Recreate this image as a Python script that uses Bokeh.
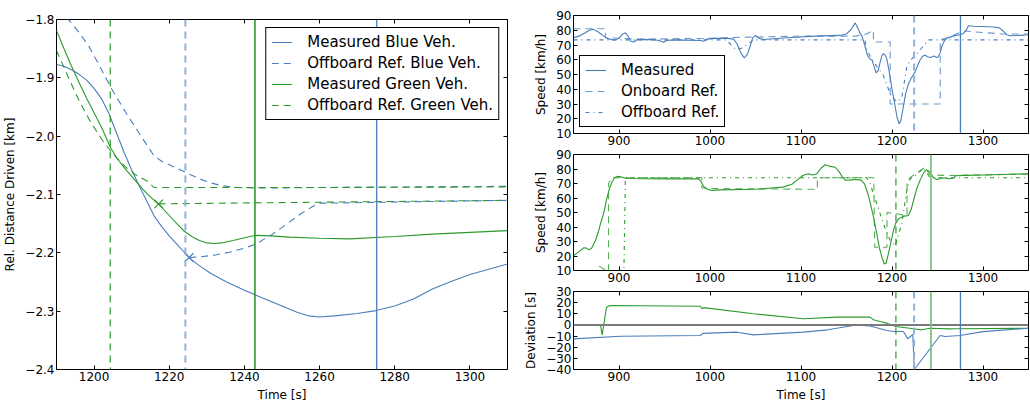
from bokeh.plotting import figure
from bokeh.layouts import row, column
from bokeh.models import Range1d, FixedTicker, LinearAxis, Span, CustomJSTickFormatter
from bokeh.embed import file_html
from bokeh.resources import INLINE

FONT = "DejaVu Sans"
BLUE = "#4a7ebb"
GREEN = "#2b9a2b"
LBLUE = "#8db0dc"
LGREEN = "#7fc47f"

# ---------------- Left panel: relative distance driven ----------------
left_t_blue_meas = [1190, 1192, 1194, 1196, 1198, 1200, 1202, 1204, 1206, 1208, 1210, 1212, 1214, 1216, 1218,
                    1220, 1222, 1224, 1226, 1228, 1231, 1235, 1240, 1245, 1250, 1254, 1257, 1260, 1264, 1270,
                    1275, 1280, 1285, 1290, 1295, 1300, 1305, 1310]
left_d_blue_meas = [-1.877, -1.880, -1.886, -1.894, -1.904, -1.918, -1.936, -1.962, -1.995, -2.028, -2.058,
                    -2.085, -2.111, -2.137, -2.155, -2.171, -2.185, -2.199, -2.212, -2.222, -2.235, -2.249,
                    -2.264, -2.278, -2.291, -2.302, -2.308, -2.310, -2.308, -2.304, -2.299, -2.291, -2.279,
                    -2.262, -2.249, -2.237, -2.228, -2.219]

left_t_blue_off = [1190, 1193.4, 1196, 1198.7, 1201, 1204.4, 1208, 1211, 1214, 1216, 1218, 1221, 1224.3, 1228,
                   1231, 1234, 1238, 1243, 1260, 1310]
left_d_blue_off = [-1.785, -1.802, -1.822, -1.847, -1.874, -1.916, -1.955, -1.985, -2.015, -2.034, -2.043,
                   -2.052, -2.062, -2.073, -2.080, -2.085, -2.088, -2.089, -2.088, -2.086]

left_t_green_meas = [1190, 1192, 1194, 1196, 1198, 1200, 1202, 1204.4, 1206, 1208, 1210, 1212, 1214, 1216, 1218,
                     1220, 1222, 1224, 1226, 1228, 1230, 1232, 1234, 1237, 1240, 1243, 1247, 1252, 1260, 1268,
                     1280, 1290, 1300, 1310]
left_d_green_meas = [-1.819, -1.850, -1.880, -1.908, -1.935, -1.960, -1.985, -2.020, -2.037, -2.054, -2.069,
                     -2.084, -2.098, -2.110, -2.122, -2.136, -2.150, -2.163, -2.172, -2.179, -2.183, -2.184,
                     -2.183, -2.179, -2.174, -2.170, -2.171, -2.173, -2.175, -2.176, -2.172, -2.168, -2.165,
                     -2.162]

left_t_green_off = [1190, 1193, 1196, 1199, 1202.2, 1205, 1208.4, 1211, 1214.6, 1215.9, 1260, 1310]
left_d_green_off = [-1.853, -1.897, -1.939, -1.975, -2.007, -2.030, -2.053, -2.066, -2.079, -2.088, -2.088, -2.087]

left_t_green_ref2 = [1217.2, 1310]
left_d_green_ref2 = [-2.116, -2.110]
left_t_blue_ref2 = [1225.3, 1228, 1232, 1236, 1240, 1243, 1247, 1251, 1255, 1259.6, 1310]
left_d_blue_ref2 = [-2.208, -2.207, -2.204, -2.199, -2.192, -2.185, -2.170, -2.152, -2.133, -2.115, -2.110]

marker_t = [1217.2, 1225.3]
marker_d = [-2.116, -2.208]
marker_colors = [GREEN, BLUE]

# event times (vertical lines)
t_green_dash = 1204.3
t_blue_dash = 1224.3
t_green_solid = 1242.8
t_blue_solid = 1275.2

left_xticks = [1200, 1220, 1240, 1260, 1280, 1300]
left_yticks = [-2.4, -2.3, -2.2, -2.1, -2.0, -1.9, -1.8]

# ---------------- Right panels ----------------
sp_t_blue_meas = [850, 856, 862, 868, 872, 877, 882, 887, 892, 896, 900, 904, 907, 910, 913, 916, 920, 925, 940,
                  946, 949, 952, 960, 990, 993, 997, 1005, 1020, 1026, 1030, 1034, 1037.7, 1041, 1044, 1047,
                  1050, 1054, 1059, 1085, 1121, 1143, 1150, 1155, 1159.6, 1162, 1165, 1167, 1170, 1173, 1176,
                  1178, 1180, 1182.6, 1185, 1187, 1189, 1190.6, 1192, 1194.3, 1196, 1198, 1200, 1203, 1205.5,
                  1207.8, 1209.5, 1211, 1213, 1215, 1218, 1221, 1225.4, 1228, 1231, 1234, 1236.4, 1239, 1242,
                  1246, 1249, 1251, 1253, 1255, 1258, 1262, 1268, 1274, 1278, 1281, 1284, 1290, 1300, 1312,
                  1318, 1322, 1326, 1330, 1340, 1350]
sp_v_blue_meas = [75, 76, 78, 80.2, 80.6, 79, 76.5, 74.5, 73.6, 73.5, 74.5, 77.5, 78.2, 76, 72.5, 72, 73.5, 73.8,
                  73.5, 72.6, 71.9, 73, 73.5, 73, 72.6, 74, 74.5, 74.5, 74, 70.5, 64.5, 61.3, 63.5, 69, 75,
                  76.4, 74.5, 73.7, 74.9, 76.2, 76.5, 77.5, 80.5, 85, 82, 78, 76, 70, 63, 60.3,
                  60, 56, 51, 53, 58.4, 63, 64.2, 63.5, 60.6, 55, 48, 40, 30, 21,
                  16.6, 18, 23, 30, 37, 43.5, 47.5, 51.6, 56, 60, 62.6, 63, 62, 61.5,
                  62.5, 61.5, 62, 65, 69.5, 73.3, 75, 76.2, 77, 77.6, 79.5, 83, 82.7, 82.5, 82.2,
                  81.6, 79.5, 77, 76.3, 76.5, 76.9]

sp_t_blue_on = [850, 885, 885, 920, 1000, 1020, 1100, 1160, 1172, 1179.6, 1179.6, 1198, 1198, 1253, 1253, 1265,
                1278, 1300, 1320, 1350]
sp_v_blue_on = [81, 81, 75, 74, 74.5, 75, 76, 76, 77.5, 80, 72, 72, 30, 30, 73.5, 76, 79.5, 78.5, 77.5, 77.5]

sp_t_blue_off = [850, 1018, 1028, 1036, 1048, 1170, 1172.5, 1179.8, 1190.6, 1198, 1205.3, 1210.8, 1216.3, 1219.9,
                 1227.2, 1240, 1350]
sp_v_blue_off = [73.5, 73.5, 67, 68, 73.5, 73.5, 66.3, 58.4, 49.3, 36.9, 31.2, 34.6, 55, 59.5, 64, 73.5, 73.5]

sp_t_green_meas = [850, 855, 861, 864, 867, 870, 874, 877, 880, 883, 886, 889, 892, 895, 898, 902, 908, 950, 987,
                   990, 993, 997, 1002, 1010, 1050, 1080, 1090, 1096, 1102, 1108, 1113, 1117, 1122, 1126.6, 1131,
                   1137.5, 1142, 1146, 1149, 1155, 1161, 1166, 1170, 1173, 1176, 1180, 1183.3, 1186, 1189,
                   1191.5, 1193.5, 1196, 1199, 1201.6, 1204, 1207, 1212, 1218, 1221, 1224, 1227, 1231, 1235,
                   1238.2, 1241.9, 1245, 1249, 1253, 1257, 1262, 1266, 1270, 1280, 1300, 1350]
sp_v_green_meas = [20.3, 22.5, 25.6, 25.5, 24.2, 25.5, 30.5, 36, 43, 49, 58, 65.5, 70.5, 74, 74.9, 74.6, 73.4,
                   73.2, 73.3, 71.5, 68, 66, 65.2, 65.6, 66, 67.5, 69.5, 72.5, 75.5, 76.7, 75.8, 76.5, 80.5,
                   82.9, 82, 81.2, 78, 74, 72.2, 72.5, 72.8, 72.3, 69.5, 64, 57, 46, 35.3, 26, 19,
                   14.5, 15, 21.5, 30, 37.6, 42.5, 45.6, 47.3, 47.9, 52, 59, 66, 72.5, 77.5,
                   79.6, 77.8, 74.5, 72.8, 73.3, 74, 73.3, 73.4, 75.3, 75.6, 75.9, 76.7]

sp_t_green_on = [878, 888.5, 888.5, 892, 991, 991, 1000, 1118, 1118, 1180, 1181, 1194.5, 1194.5, 1216.5, 1216.5,
                 1222, 1236, 1242, 1260, 1350]
sp_v_green_on = [13, 9, 70, 74, 74, 67, 66.5, 66, 74, 74, 26, 26, 50, 48, 72, 75, 81, 76, 75.5, 76.5]

sp_t_green_off = [850, 905.3, 907, 1172, 1176, 1183.3, 1190.6, 1198, 1203.5, 1210.8, 1216.3, 1219.9, 1227.2,
                  1234.5, 1241.9, 1350]
sp_v_green_off = [5, 5, 74, 74, 69.8, 56, 42.2, 30.7, 27, 42.2, 65.2, 73.2, 76.1, 80.7, 74, 74]

dev_t_blue = [850, 901.6, 989.4, 992, 1029.6, 1047.9, 1102.8, 1129.5, 1157.5, 1166, 1176, 1194.3, 1202.6, 1212.6,
              1217.3, 1222.8, 1224.5, 1252.9, 1258.3, 1274.8, 1300, 1350]
dev_v_blue = [-12.5, -10.1, -9.5, -7.6, -6.5, -8.9, -6.5, -4.4, -0.5, -0.5, -1, -5, -5.9, -5.9,
              -12.5, -8.6, -40, -9.5, -10.4, -9.5, -6, -3]

dev_t_green = [850, 879.6, 881.5, 886.2, 889.8, 989.4, 991.2, 993, 1047.9, 1102.8, 1139.4, 1176, 1179.6, 1187,
               1194.3, 1204.2, 1223.6, 1232.7, 1241.9, 1263.9, 1270, 1350]
dev_v_green = [0, 0, -8.9, 15.9, 17.4, 16.8, 14.6, 15.5, 10, 5.5, 7, 7, 4.6, 3,
               1.6, -1.4, -3.5, -4.4, -3, -3.5, -3.4, -3]

right_xticks = [900, 1000, 1100, 1200, 1300]
speed_yticks = [10, 20, 30, 40, 50, 60, 70, 80, 90]
dev_yticks = [-40, -30, -20, -10, 0, 10, 20, 30]

DASH = "7 5"
DASHDOT = "4 4 1 4"

fmt1 = CustomJSTickFormatter(code="return (tick < 0 ? '\u2212' : '') + Math.abs(tick).toFixed(1);")
fmt0 = CustomJSTickFormatter(code="return (tick < 0 ? '\u2212' : '') + Math.abs(tick).toFixed(0);")


def make_fig(width, height, xr, yr, mb):
    p = figure(width=width, height=height, x_range=Range1d(*xr), y_range=Range1d(*yr),
               output_backend="svg", toolbar_location=None, x_axis_type=None, y_axis_type=None,
               min_border_left=mb[0], min_border_right=mb[1], min_border_top=mb[2], min_border_bottom=mb[3])
    p.outline_line_color = "black"
    p.outline_line_alpha = 1
    p.outline_line_width = 1
    p.background_fill_color = "white"
    p.border_fill_color = "white"
    return p


def add_axes(p, xt, yt, yfmt, xlabel=None, ylabel=None, ylabel_standoff=5):
    common = dict(axis_line_color=None, major_tick_in=4, major_tick_out=0,
                  minor_tick_line_color=None, major_tick_line_color="black", major_tick_line_width=1)
    lab = dict(major_label_text_font=FONT, major_label_text_font_size="12px",
               major_label_text_color="black", major_label_standoff=2)
    bx = LinearAxis(ticker=FixedTicker(ticks=xt), **common, **lab)
    if xlabel:
        bx.axis_label = xlabel
        bx.axis_label_text_font = FONT
        bx.axis_label_text_font_size = "12px"
        bx.axis_label_text_font_style = "normal"
        bx.axis_label_text_color = "black"
        bx.axis_label_standoff = 4
    p.add_layout(bx, "below")
    ly = LinearAxis(ticker=FixedTicker(ticks=yt), formatter=yfmt, **common, **lab)
    if ylabel:
        ly.axis_label = ylabel
        ly.axis_label_text_font = FONT
        ly.axis_label_text_font_size = "12px"
        ly.axis_label_text_font_style = "normal"
        ly.axis_label_text_color = "black"
        ly.axis_label_standoff = ylabel_standoff
    p.add_layout(ly, "left")
    # tick marks only (labels not painted) on the top and right edges
    hidden = dict(major_label_text_font_size="1px", major_label_standoff=0, major_label_text_color=None)
    p.add_layout(LinearAxis(ticker=FixedTicker(ticks=xt), **common, **hidden), "above")
    p.add_layout(LinearAxis(ticker=FixedTicker(ticks=yt), **common, **hidden), "right")


def style_legend(p, loc, margin):
    lg = p.legend[0]
    lg.location = loc
    lg.margin = margin
    lg.padding = 5
    lg.spacing = 3
    lg.label_height = 18
    lg.glyph_height = 18
    lg.glyph_width = 21
    lg.label_standoff = 15
    lg.label_text_font = FONT
    lg.label_text_font_size = "15px"
    lg.label_text_color = "black"
    lg.border_line_color = "black"
    lg.border_line_width = 1
    lg.border_line_alpha = 1
    lg.background_fill_color = "white"
    lg.background_fill_alpha = 1


# ---- left figure
pl = make_fig(513, 404, (1190, 1310), (-2.4, -1.8), (54, 6, 19, 35))
add_axes(pl, left_xticks, left_yticks, fmt1, xlabel="Time [s]", ylabel="Rel. Distance Driven [km]", ylabel_standoff=5)

pl.add_layout(Span(location=t_green_dash, dimension="height", line_color=GREEN, line_dash=DASH, line_width=1.2))
pl.add_layout(Span(location=t_blue_dash, dimension="height", line_color=LBLUE, line_dash=DASH, line_width=2))
pl.add_layout(Span(location=t_green_solid, dimension="height", line_color=GREEN, line_width=1.6))
pl.add_layout(Span(location=t_blue_solid, dimension="height", line_color=BLUE, line_width=1.3))

pl.line(left_t_blue_meas, left_d_blue_meas, line_color=BLUE, line_width=1.1, legend_label="Measured Blue Veh.")
pl.line(left_t_blue_off, left_d_blue_off, line_color=BLUE, line_width=1.1, line_dash=DASH,
        legend_label="Offboard Ref. Blue Veh.")
pl.line(left_t_green_meas, left_d_green_meas, line_color=GREEN, line_width=1.1, legend_label="Measured Green Veh.")
pl.line(left_t_green_off, left_d_green_off, line_color=GREEN, line_width=1.1, line_dash=DASH,
        legend_label="Offboard Ref. Green Veh.")
pl.line(left_t_green_ref2, left_d_green_ref2, line_color=GREEN, line_width=1.1, line_dash=DASH)
pl.line(left_t_blue_ref2, left_d_blue_ref2, line_color=BLUE, line_width=1.1, line_dash=DASH)
pl.scatter(marker_t, marker_d, marker="x", size=12, line_color=marker_colors, line_width=1.2)
style_legend(pl, "top_right", 8)

# ---- right top (blue speed)
f1 = make_fig(517, 149, (850, 1350), (10, 90), (60, 2, 15, 16))
add_axes(f1, right_xticks, speed_yticks, fmt0, ylabel="Speed [km/h]")
f1.add_layout(Span(location=t_blue_dash, dimension="height", line_color=LBLUE, line_dash=DASH, line_width=2))
f1.add_layout(Span(location=t_blue_solid, dimension="height", line_color=BLUE, line_width=1.3))
f1.line(sp_t_blue_meas, sp_v_blue_meas, line_color=BLUE, line_width=1.1, legend_label="Measured")
f1.line(sp_t_blue_on, sp_v_blue_on, line_color=BLUE, line_width=1.1, line_dash=DASH, line_alpha=0.8,
        legend_label="Onboard Ref.")
f1.line(sp_t_blue_off, sp_v_blue_off, line_color=BLUE, line_width=1.1, line_dash=DASHDOT,
        legend_label="Offboard Ref.")
style_legend(f1, "bottom_left", 6)

# ---- right middle (green speed)
f2 = make_fig(517, 137, (850, 1350), (10, 90), (60, 2, 5, 16))
add_axes(f2, right_xticks, speed_yticks, fmt0, ylabel="Speed [km/h]")
f2.add_layout(Span(location=t_green_dash, dimension="height", line_color=GREEN, line_dash=DASH, line_width=1.2))
f2.add_layout(Span(location=t_green_solid, dimension="height", line_color=LGREEN, line_width=1.8))
f2.line(sp_t_green_meas, sp_v_green_meas, line_color=GREEN, line_width=1.1)
f2.line(sp_t_green_on, sp_v_green_on, line_color=GREEN, line_width=1.1, line_dash=DASH, line_alpha=0.8)
f2.line(sp_t_green_off, sp_v_green_off, line_color=GREEN, line_width=1.1, line_dash=DASHDOT)

# ---- right bottom (deviation)
f3 = make_fig(517, 118, (850, 1350), (-40, 30), (60, 2, 5, 35))
add_axes(f3, right_xticks, dev_yticks, fmt0, xlabel="Time [s]", ylabel="Deviation [s]")
f3.add_layout(Span(location=0, dimension="width", line_color="#7a7a7a", line_width=2))
f3.add_layout(Span(location=t_green_dash, dimension="height", line_color=GREEN, line_dash=DASH, line_width=1.2))
f3.add_layout(Span(location=t_blue_dash, dimension="height", line_color=LBLUE, line_dash=DASH, line_width=2))
f3.add_layout(Span(location=t_green_solid, dimension="height", line_color=LGREEN, line_width=1.8))
f3.add_layout(Span(location=t_blue_solid, dimension="height", line_color=BLUE, line_width=1.3))
f3.line(dev_t_green, dev_v_green, line_color=GREEN, line_width=1.1)
f3.line(dev_t_blue, dev_v_blue, line_color=BLUE, line_width=1.1)

layout = row(pl, column(f1, f2, f3, spacing=0), spacing=0)

open("out.html", "w").write(file_html(layout, INLINE))
